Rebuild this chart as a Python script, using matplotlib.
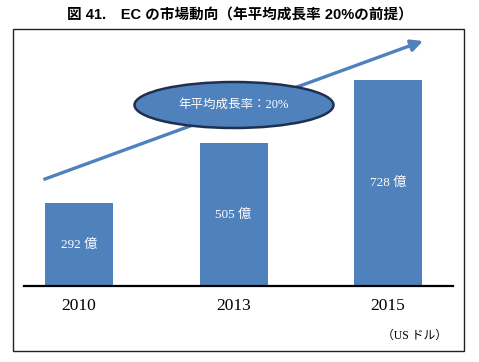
import matplotlib
matplotlib.use("Agg")
import matplotlib.pyplot as plt
from matplotlib.patches import Ellipse, Rectangle

# data
years = ["2010", "2013", "2015"]
values = [292, 505, 728]          # 億 US ドル
bar_labels = ["292 億", "505 億", "728 億"]
title = "図 41.　EC の市場動向（年平均成長率 20%の前提）"
growth_label = "年平均成長率：20%"
unit_label = "（US ドル）"

blue = "#4F81BD"
serif = ["Liberation Serif", "Noto Sans CJK JP"]
sans = ["Liberation Sans", "Noto Sans CJK JP"]

W, H = 479, 362
fig = plt.figure(figsize=(W / 100, H / 100), dpi=100)
fig.patch.set_facecolor("white")

def fx(px):
    return px / W

def fy(py):
    return 1 - py / H

# outer frame
fig.patches.append(Rectangle((fx(13), fy(351)), fx(464) - fx(13), fy(29) - fy(351),
                             transform=fig.transFigure, fill=False,
                             edgecolor="#222222", linewidth=1.0))

# bar axes: baseline at y=286px, x from 24 to 453px
ax = fig.add_axes([fx(24), fy(286), fx(453) - fx(24), 900 * 0.2832 / H])
x = list(range(len(years)))
ax.bar(x, values, width=0.44, color=blue, zorder=2)
ax.set_xlim(-0.356, 2.42)
ax.set_ylim(0, 900)
for s in ["top", "right", "left"]:
    ax.spines[s].set_visible(False)
ax.spines["bottom"].set_linewidth(1.6)
ax.spines["bottom"].set_color("black")
ax.set_yticks([])
ax.set_xticks(x)
ax.set_xticklabels(years, fontsize=12.5, family=serif)
ax.tick_params(axis="x", length=0, pad=9)
ax.patch.set_alpha(0)

for xi, v, lab in zip(x, values, bar_labels):
    ax.text(xi, v / 2, lab, ha="center", va="center", color="white",
            fontsize=9.5, family=serif)

# title
fig.text(0.5, fy(15), title, ha="center", va="center", fontsize=10.5,
         fontweight="bold", family=sans)

# growth arrow
fig.add_artist(plt.Line2D([fx(45), fx(412)], [fy(179), fy(45)], color=blue,
                          linewidth=2.4, transform=fig.transFigure))
ax.annotate("", xy=(fx(423), fy(41)), xytext=(fx(408), fy(46.5)),
            xycoords="figure fraction", textcoords="figure fraction",
            arrowprops=dict(arrowstyle="-|>,head_length=0.7,head_width=0.35",
                            color=blue, linewidth=2.4, shrinkA=0, shrinkB=0))

# ellipse with growth rate
fig.patches.append(Ellipse((fx(234), fy(105)), fx(199), 46 / H,
                           transform=fig.transFigure, facecolor=blue,
                           edgecolor="#1F2F4F", linewidth=1.8, zorder=5))
fig.text(fx(234), fy(105), growth_label, ha="center", va="center",
         color="white", fontsize=9, family=serif, zorder=6)

# unit
fig.text(fx(447), fy(336), unit_label, ha="right", va="center",
         fontsize=8.5, family=serif)

fig.savefig("out.png", dpi=100)
